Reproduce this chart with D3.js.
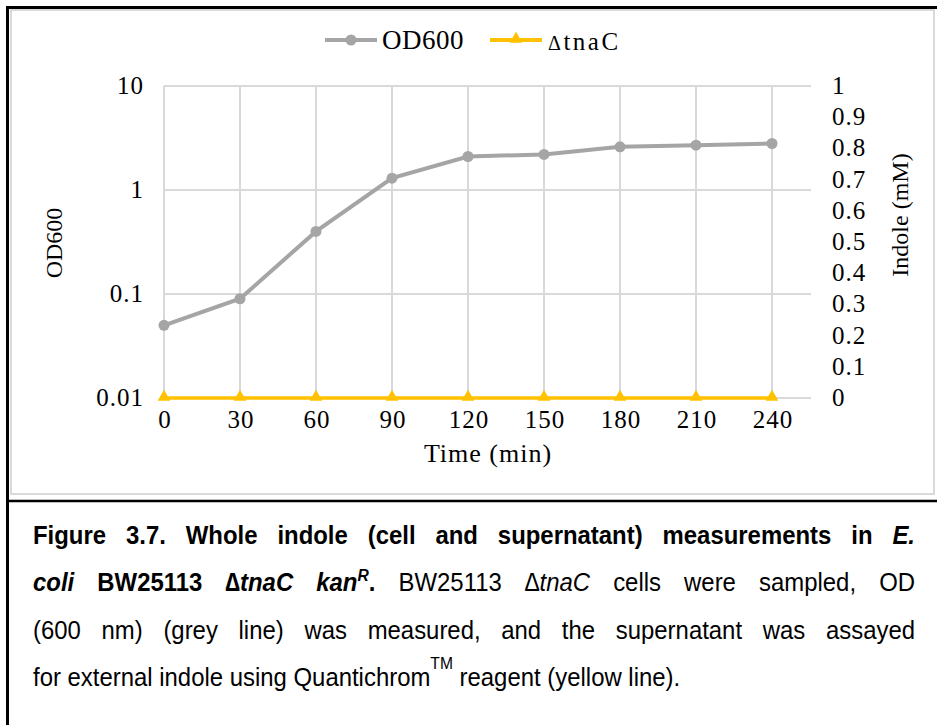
<!DOCTYPE html>
<html>
<head>
<meta charset="utf-8">
<script src="https://cdn.jsdelivr.net/npm/d3@7"></script>
<style>
  body { margin: 0; background: #fff; }
  svg { display: block; }
</style>
</head>
<body>
<div id="place"></div>
<script>
(function() {

	// data
	const times = [0, 30, 60, 90, 120, 150, 180, 210, 240];
	const od600 = [0.05, 0.09, 0.4, 1.3, 2.1, 2.2, 2.6, 2.7, 2.8];
	const indole = [0, 0, 0, 0, 0, 0, 0, 0, 0];
	const odTicks = [10, 1, 0.1, 0.01];
	const indoleTicks = [0, 0.1, 0.2, 0.3, 0.4, 0.5, 0.6, 0.7, 0.8, 0.9, 1];
	const seriesNames = ["OD600", "\u0394tnaC"];

	const W = 937, H = 725;
	const grey = "#a5a5a5", yellow = "#ffc000", grid = "#d9d9d9";
	const serif = "'Liberation Serif', 'Times New Roman', serif";
	const sans = "'Liberation Sans', Arial, sans-serif";

	let svg = d3.select("#place").append("svg")
		.attr('width', W)
		.attr('height', H)

	// frames
	svg.append('rect')
		.attr('x', 11).attr('y', 10)
		.attr('width', 923).attr('height', 484)
		.attr('fill', 'none').attr('stroke', grid).attr('stroke-width', 2)
	svg.append('path')
		.attr('d', 'M7.5,725 V7.5 H937')
		.attr('fill', 'none').attr('stroke', '#000').attr('stroke-width', 3)
	svg.append('line')
		.attr('x1', 7).attr('x2', 937).attr('y1', 501).attr('y2', 501)
		.attr('stroke', '#000').attr('stroke-width', 2.5)

	const x = d3.scaleLinear().domain([0, 240]).range([164, 772]);
	const yOD = d3.scaleLog().domain([0.01, 10]).range([398, 86]);
	const yInd = d3.scaleLinear().domain([0, 1]).range([398, 86]);
	const plotRight = 811;

	// grid
	svg.append('g').selectAll('line')
		.data(odTicks)
	  .enter().append('line')
		.attr('x1', x(0)).attr('x2', plotRight)
		.attr('y1', d => yOD(d)).attr('y2', d => yOD(d))
		.attr('stroke', grid).attr('stroke-width', 2)
	svg.append('g').selectAll('line')
		.data(times)
	  .enter().append('line')
		.attr('x1', d => x(d)).attr('x2', d => x(d))
		.attr('y1', yOD(10)).attr('y2', yOD(0.01))
		.attr('stroke', grid).attr('stroke-width', 2)

	// axes
	const ls = 1;
	const fmt = d => String(d);
	let gl = svg.append('g')
		.attr('transform', 'translate(' + (x(0) - 21 + ls) + ',0)')
		.call(d3.axisLeft(yOD).tickValues(odTicks).tickFormat(fmt).tickSize(0).tickPadding(0))
	let gr = svg.append('g')
		.attr('transform', 'translate(832,0)')
		.call(d3.axisRight(yInd).tickValues(indoleTicks).tickFormat(fmt).tickSize(0).tickPadding(0))
	let gb = svg.append('g')
		.attr('transform', 'translate(' + (ls / 2) + ',410)')
		.call(d3.axisBottom(x).tickValues(times).tickFormat(fmt).tickSize(0).tickPadding(0))
	;[gl, gr, gb].forEach(g => {
		g.select('.domain').remove()
		g.selectAll('text')
			.attr('fill', '#000')
			.style('font-family', serif)
			.style('font-size', '25px')
			.style('letter-spacing', ls + 'px')
	})
	gl.selectAll('text').attr('dy', '0.3em')
	gr.selectAll('text').attr('dy', '0.3em')
	gb.selectAll('text').attr('dy', '0.7em')

	// axis titles
	svg.append('text')
		.attr('x', (x(0) + plotRight) / 2 + 0.5).attr('y', 462)
		.attr('text-anchor', 'middle')
		.style('font-family', serif).style('font-size', '26px')
		.style('letter-spacing', '1px')
		.text('Time (min)')
	svg.append('text')
		.attr('transform', 'translate(62,243) rotate(-90)')
		.attr('text-anchor', 'middle')
		.style('font-family', serif).style('font-size', '24px')
		.text('OD600')
	svg.append('text')
		.attr('transform', 'translate(908,215) rotate(-90)')
		.attr('text-anchor', 'middle')
		.style('font-family', serif).style('font-size', '24px')
		.text('Indole (mM)')

	// series
	const pts = times.map((t, i) => ({ t: t, od: od600[i], ind: indole[i] }));
	const tri = d3.symbol().type(d3.symbolTriangle).size(70);

	svg.append('path')
		.datum(pts)
		.attr('fill', 'none').attr('stroke', yellow).attr('stroke-width', 3.5)
		.attr('d', d3.line().x(d => x(d.t)).y(d => yInd(d.ind)))
	svg.append('g').selectAll('path')
		.data(pts)
	  .enter().append('path')
		.attr('d', tri)
		.attr('transform', d => 'translate(' + x(d.t) + ',' + (yInd(d.ind) - 1) + ')')
		.attr('fill', yellow)

	svg.append('path')
		.datum(pts)
		.attr('fill', 'none').attr('stroke', grey).attr('stroke-width', 4)
		.attr('d', d3.line().x(d => x(d.t)).y(d => yOD(d.od)))
	svg.append('g').selectAll('circle')
		.data(pts)
	  .enter().append('circle')
		.attr('cx', d => x(d.t)).attr('cy', d => yOD(d.od))
		.attr('r', 5.5)
		.attr('fill', grey)

	// legend
	let lg = svg.append('g')
	lg.append('line').attr('x1', 325).attr('x2', 377).attr('y1', 40).attr('y2', 40)
		.attr('stroke', grey).attr('stroke-width', 4)
	lg.append('circle').attr('cx', 351).attr('cy', 40).attr('r', 5.5).attr('fill', grey)
	lg.append('text').attr('x', 382).attr('y', 49)
		.style('font-family', serif).style('font-size', '27px')
		.style('letter-spacing', '0.5px')
		.text(seriesNames[0])
	lg.append('line').attr('x1', 490).attr('x2', 542).attr('y1', 40).attr('y2', 40)
		.attr('stroke', yellow).attr('stroke-width', 4)
	lg.append('path').attr('d', tri).attr('transform', 'translate(516,39)').attr('fill', yellow)
	let lt = lg.append('text').attr('x', 548).attr('y', 50)
		.style('font-family', serif).style('font-size', '25px')
		.style('letter-spacing', '2.5px')
	lt.append('tspan').style('font-size', '20px').text(seriesNames[1].slice(0, 1))
	lt.append('tspan').text(seriesNames[1].slice(1))

	// caption, justified lines; the source font is a little condensed
	const capX = 33, capRight = 915, sx = 0.92;
	const capLines = [
		{ y: 544, justify: true, parts: [
			{ t: 'Figure 3.7. Whole indole (cell and supernatant) measurements in ', b: 1 },
			{ t: 'E.', b: 1, i: 1 } ] },
		{ y: 591, justify: true, parts: [
			{ t: 'coli', b: 1, i: 1 },
			{ t: ' BW25113 ', b: 1 },
			{ t: '\u2206tnaC kan', b: 1, i: 1 },
			{ t: 'R', b: 1, i: 1, sup: 10 },
			{ t: '. ', b: 1 },
			{ t: 'BW25113 ' },
			{ t: '\u2206tnaC', i: 1 },
			{ t: ' cells were sampled, OD' } ] },
		{ y: 639, justify: true, parts: [
			{ t: '(600 nm) (grey line) was measured, and the supernatant was assayed' } ] },
		{ y: 686, justify: false, parts: [
			{ t: 'for external indole using Quantichrom' },
			{ t: 'TM', sup: 17 },
			{ t: ' reagent (yellow line).' } ] }
	];

	capLines.forEach(line => {
		let tx = svg.append('text')
			.attr('transform', 'translate(' + capX + ',' + line.y + ') scale(' + sx + ',1)')
			.style('font-family', sans).style('font-size', '26px')
			.attr('fill', '#000')
		let lift = 0
		line.parts.forEach(p => {
			let s = tx.append('tspan')
				.style('font-weight', p.b ? 'bold' : 'normal')
				.style('font-style', p.i ? 'italic' : 'normal')
				.text(p.t)
			const want = p.sup || 0
			if (want !== lift) s.attr('dy', lift - want)
			if (p.sup) s.style('font-size', '17px')
			lift = want
		})
		if (line.justify) {
			const natural = tx.node().getComputedTextLength()
			const spaces = line.parts.map(p => p.t).join('').split(' ').length - 1
			tx.style('word-spacing', (((capRight - capX) / sx - natural) / spaces) + 'px')
		}
	})

})()
</script>
</body>
</html>
